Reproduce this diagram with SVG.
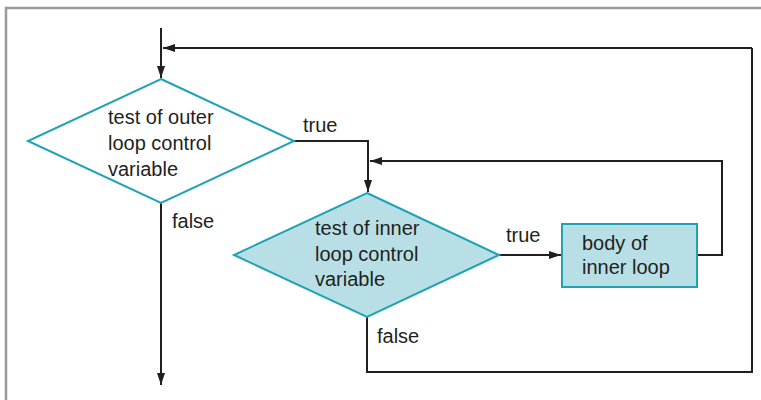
<svg xmlns="http://www.w3.org/2000/svg" width="761" height="400" viewBox="0 0 761 400">
<defs>
<marker id="arr" viewBox="0 0 12 8" refX="12" refY="4" markerWidth="12" markerHeight="8" markerUnits="userSpaceOnUse" orient="auto">
<path d="M0,0 L12,4 L0,8 Z" fill="#231f20"/>
</marker>
<style>
.t{font-family:"Liberation Sans",Arial,sans-serif;font-size:20px;fill:#231f20}
.c{fill:none;stroke:#231f20;stroke-width:2}
.dia{stroke:#1fa3b4;stroke-width:2}
</style>
</defs>
<rect width="761" height="400" fill="#fff"/>
<path d="M6,400 V8 H761" fill="none" stroke="#9a9a9c" stroke-width="2.5"/>
<g id="connectors">
<path class="c" d="M161,28 V78" marker-end="url(#arr)"/>
<path class="c" d="M752,48 H163" marker-end="url(#arr)"/>
<path class="c" d="M294,141 H368 V192" marker-end="url(#arr)"/>
<path class="c" d="M161,203 V385" marker-end="url(#arr)"/>
<path class="c" d="M499,255 H561" marker-end="url(#arr)"/>
<path class="c" d="M697,255 H722 V161 H370" marker-end="url(#arr)"/>
<path class="c" d="M367,317 V372 H752 V48"/>
<text class="t" x="303" y="132">true</text>
<text class="t" x="172" y="228">false</text>
<text class="t" x="506" y="242">true</text>
<text class="t" x="377" y="343">false</text>
</g>
<g id="outer">
<polygon class="dia" points="161,79 294,141 161,203 28,141" fill="#fff"/>
<text class="t" x="108" y="124">test of outer</text>
<text class="t" x="108" y="150">loop control</text>
<text class="t" x="108" y="176">variable</text>
</g>
<g id="inner">
<polygon class="dia" points="367,193 499,255 367,317 234,255" fill="#b8dfe5"/>
<text class="t" x="315" y="235">test of inner</text>
<text class="t" x="315" y="261">loop control</text>
<text class="t" x="315" y="286">variable</text>
</g>
<g id="body">
<rect class="dia" x="562" y="224" width="135" height="63" fill="#b8dfe5"/>
<text class="t" x="582" y="250">body of</text>
<text class="t" x="582" y="274">inner loop</text>
</g>
</svg>
